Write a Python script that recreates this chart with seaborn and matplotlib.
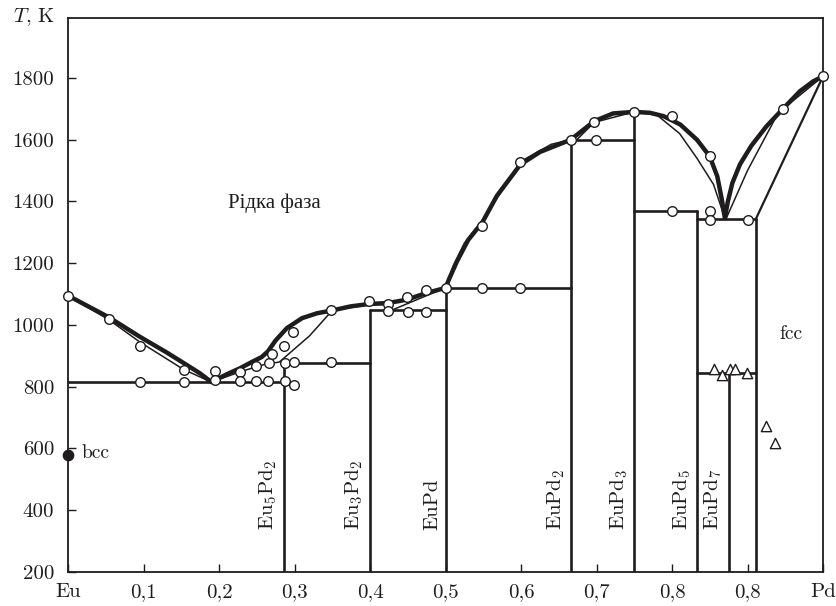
# Eu-Pd phase diagram
import matplotlib
matplotlib.use("Agg")
import matplotlib.pyplot as plt
import seaborn as sns

# liquidus (thick line)
liq_x = [0, 0.054, 0.095, 0.13, 0.153, 0.175, 0.19,
         0.21, 0.228, 0.245, 0.2565, 0.265, 0.275, 0.29, 0.31, 0.33, 0.35, 0.374, 0.399,
         0.424, 0.449, 0.474, 0.5,
         0.505, 0.515, 0.53, 0.549, 0.568, 0.599, 0.625, 0.666, 0.683, 0.697, 0.722, 0.75,
         0.771, 0.789, 0.811, 0.833, 0.85, 0.86, 0.866, 0.87,
         0.874, 0.88, 0.89, 0.905, 0.925, 0.947, 0.9695, 0.987, 1.0]
liq_T = [1095, 1025, 962, 912, 877, 843, 815,
         840, 860, 882, 896, 915, 950, 990, 1022, 1038, 1047, 1060, 1068,
         1071, 1082, 1103, 1120,
         1150, 1205, 1275, 1333, 1418, 1519, 1560, 1600, 1633, 1660, 1685, 1690,
         1687, 1676, 1649, 1600, 1546, 1481, 1406, 1346,
         1400, 1460, 1520, 1580, 1643, 1700, 1757, 1789, 1805]

# thin lines (second data set)
thin_lines = [
    ([0, 0.054, 0.095, 0.153, 0.19], [1095, 1017, 945, 856, 815]),
    ([0.19, 0.23, 0.26, 0.28, 0.32, 0.35, 0.40, 0.43], [815, 850, 872, 880, 965, 1047, 1066, 1066]),
    ([0.43, 0.47, 0.5], [1049, 1090, 1120]),
    ([0.5, 0.51, 0.525, 0.55, 0.6, 0.64, 0.666], [1120, 1190, 1265, 1343, 1530, 1585, 1600]),
    ([0.674, 0.697, 0.75], [1600, 1656, 1690]),
    ([0.75, 0.78, 0.81, 0.833, 0.855, 0.87], [1690, 1680, 1620, 1540, 1455, 1346]),
    ([0.872, 0.9, 0.9407, 1.0], [1346, 1500, 1687, 1805]),
]
solidus_x = [0.911, 1.0]
solidus_T = [1343, 1805]

# compounds: composition, top of the vertical line, label
comp_x = [0.2857, 0.4, 0.5, 0.6667, 0.75, 0.8333, 0.875, 0.911]
comp_top = [878, 1047, 1120, 1600, 1690, 1368, 844, 1343]
comp_lab = [r'Eu$_5$Pd$_2$', r'Eu$_3$Pd$_2$', 'EuPd', r'EuPd$_2$', r'EuPd$_3$',
            r'EuPd$_5$', r'EuPd$_7$', None]

# invariant horizontals
tie_x0 = [0.0, 0.2857, 0.4, 0.5, 0.6667, 0.75, 0.8333, 0.8333]
tie_x1 = [0.2857, 0.4, 0.5, 0.6667, 0.75, 0.8333, 0.911, 0.911]
tie_T = [816, 878, 1047, 1120, 1600, 1368, 1343, 844]

# open circles
circ_x = [0, 0.054, 0.095, 0.0954, 0.153, 0.153, 0.195, 0.195, 0.228, 0.228, 0.249, 0.249,
          0.266, 0.265, 0.27, 0.2865, 0.288, 0.287, 0.298, 0.299, 0.299, 0.348, 0.349,
          0.399, 0.424, 0.424, 0.449, 0.45, 0.474, 0.474, 0.5, 0.548, 0.549, 0.599, 0.599,
          0.666, 0.699, 0.697, 0.75, 0.80, 0.85, 0.80, 0.85, 0.85, 0.90, 0.947, 1.0]
circ_T = [1095, 1019, 932, 814, 854, 816, 852, 821, 849, 819, 868, 819,
          876, 819, 906, 933, 819, 876, 977, 804, 880, 880, 1047,
          1076, 1069, 1044, 1092, 1042, 1112, 1042, 1120, 1120, 1322, 1121, 1527,
          1600, 1598, 1656, 1690, 1676, 1546, 1369, 1369, 1341, 1340, 1700, 1805]

# open triangles
tri_x = [0.8556, 0.8657, 0.8768, 0.884, 0.899, 0.924, 0.936]
tri_T = [857, 838, 857, 857, 844, 673, 617]

# bcc point
bcc_x = [0.0]
bcc_T = [579]

xtick_pos = [0, 0.1, 0.2, 0.3, 0.4, 0.5, 0.6, 0.7, 0.8, 0.9, 1.0]
xtick_lab = ['Eu', '0,1', '0,2', '0,3', '0,4', '0,5', '0,6', '0,7', '0,8', '0,8', 'Pd']
ytick_pos = [200, 400, 600, 800, 1000, 1200, 1400, 1600, 1800]

sns.set_theme(style='ticks')
plt.rcParams['font.family'] = ['cmr10', 'DejaVu Serif']
plt.rcParams['mathtext.fontset'] = 'cm'
plt.rcParams['axes.unicode_minus'] = False

ink = '#1e1c1c'
fig = plt.figure(figsize=(8.36, 6.06), dpi=100)
ax = fig.add_axes([68 / 836, 34 / 606, 755 / 836, 554.3 / 606])


def draw(x, y, lw, z=2):
    sns.lineplot(x=x, y=y, sort=False, estimator=None, color=ink,
                 linewidth=lw, ax=ax, legend=False, zorder=z)


draw(liq_x, liq_T, 3.2, 3)
for tx, tT in thin_lines:
    draw(tx, tT, 1.1)
draw(solidus_x, solidus_T, 1.6)

for cx, top in zip(comp_x, comp_top):
    draw([cx, cx], [200, top], 1.9)
for a, b, t in zip(tie_x0, tie_x1, tie_T):
    draw([a, b], [t, t], 1.9)

sns.scatterplot(x=circ_x, y=circ_T, marker='o', s=48, color='white',
                edgecolor=ink, linewidth=1.0, ax=ax, zorder=5, clip_on=False)
sns.scatterplot(x=tri_x, y=tri_T, marker='^', s=55, color='white',
                edgecolor=ink, linewidth=1.0, ax=ax, zorder=5)
sns.scatterplot(x=bcc_x, y=bcc_T, marker='o', s=55, color=ink,
                edgecolor=ink, linewidth=1.0, ax=ax, zorder=5, clip_on=False)

for cx, lab in zip(comp_x, comp_lab):
    if lab:
        ax.text(cx - 0.006, 335, lab, rotation=90, ha='right', va='bottom',
                fontsize=15, color=ink)

ax.text(0.018, 586, 'bcc', fontsize=14, va='center', ha='left', color=ink)
ax.text(0.957, 970, 'fcc', fontsize=14, va='center', ha='center', color=ink)
ax.text(0.273, 1395, 'Рідка фаза', fontsize=15, va='center', ha='center',
        color=ink, family=['Liberation Serif', 'DejaVu Serif'])
fig.text(13 / 836, 1 - 17 / 606, r'$T$, K', fontsize=15, va='center', ha='left', color=ink)

ax.set_xlim(0, 1)
ax.set_ylim(200, 1995)
ax.set_xticks(xtick_pos)
ax.set_xticklabels(xtick_lab)
ax.set_yticks(ytick_pos)
ax.set_yticklabels([str(v) for v in ytick_pos])
ax.tick_params(direction='in', length=6, width=1.0, colors=ink, labelsize=15)
ax.tick_params(axis='x', pad=8)
ax.tick_params(axis='y', pad=10)
ax.set_xlabel('')
ax.set_ylabel('')
for s in ax.spines.values():
    s.set_linewidth(1.3)
    s.set_color(ink)

fig.savefig('out.png', dpi=100)
